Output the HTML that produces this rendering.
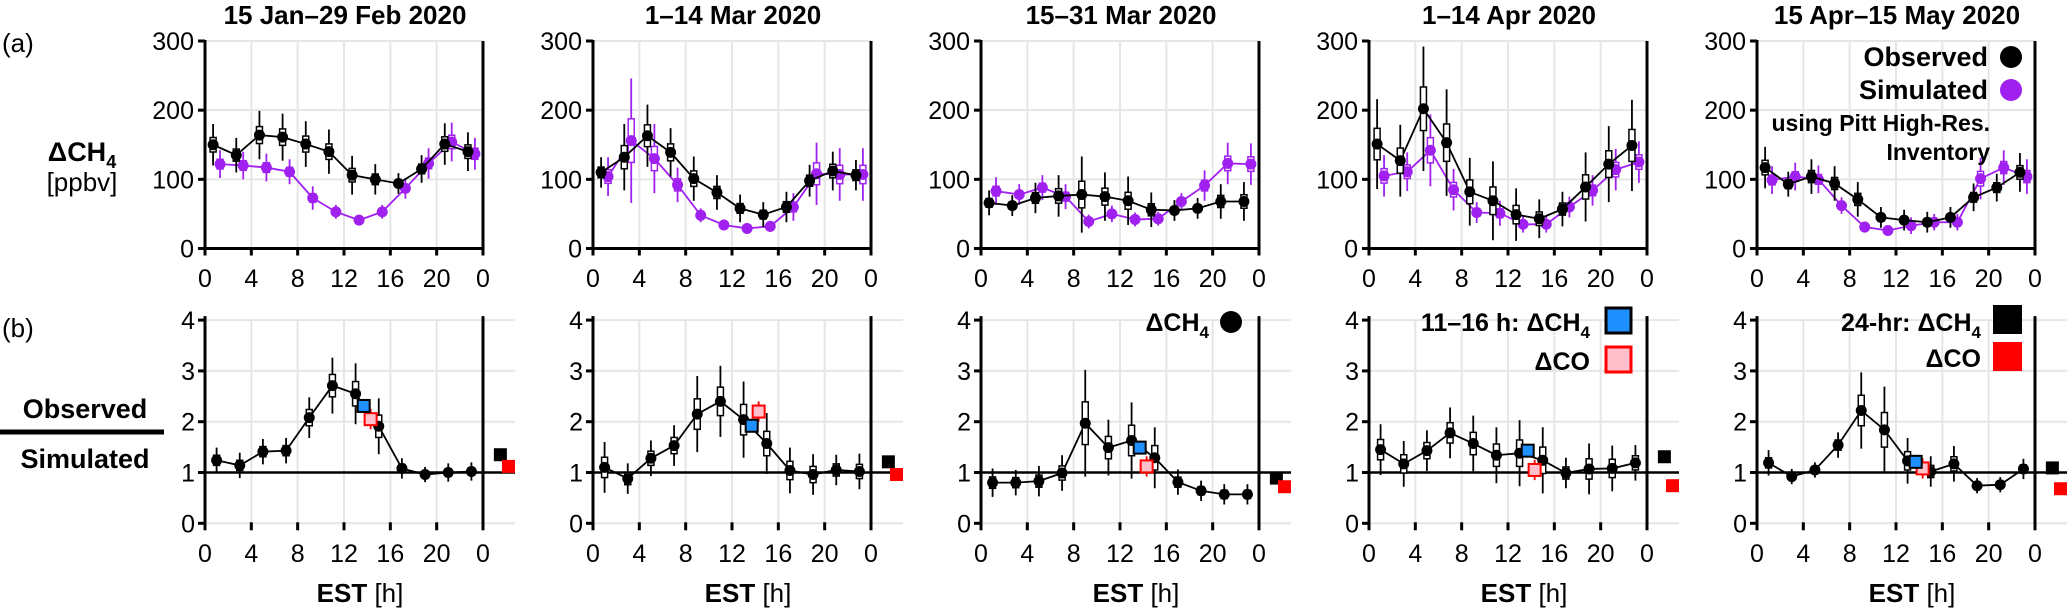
<!DOCTYPE html>
<html><head><meta charset="utf-8">
<style>
html,body{margin:0;padding:0;background:#fff;}
svg{display:block;font-family:"Liberation Sans",Arial,sans-serif;}
</style></head>
<body>
<svg id="chart" width="2067" height="611" viewBox="0 0 2067 611" xmlns="http://www.w3.org/2000/svg">
  <rect x="0" y="0" width="2067" height="611" fill="#fff"/>
  <text x="2" y="52" font-size="26">(a)</text>
  <text x="2" y="337" font-size="26">(b)</text>
  <text x="82" y="161" font-size="27" font-weight="bold" text-anchor="middle">ΔCH<tspan font-size="18" dy="7">4</tspan></text>
  <text x="82" y="191" font-size="26" text-anchor="middle">[ppbv]</text>
  <text x="85" y="418" font-size="27" font-weight="bold" text-anchor="middle">Observed</text>
  <rect x="0" y="429.5" width="164" height="5" fill="#000"/>
  <text x="85" y="468" font-size="27" font-weight="bold" text-anchor="middle">Simulated</text>
  <g id="plots"></g>
  <g id="legends">
    <text x="1988" y="66" font-size="27" font-weight="bold" text-anchor="end">Observed</text>
    <circle cx="2011" cy="57" r="11" fill="#000"/>
    <text x="1988" y="99" font-size="27" font-weight="bold" text-anchor="end">Simulated</text>
    <circle cx="2011" cy="90" r="11" fill="#a020f0"/>
    <text x="1990" y="131" font-size="23" font-weight="bold" text-anchor="end">using Pitt High-Res.</text>
    <text x="1990" y="160" font-size="23" font-weight="bold" text-anchor="end">Inventory</text>
    <text x="1209" y="331" font-size="25" font-weight="bold" text-anchor="end">ΔCH<tspan font-size="17" dy="7">4</tspan></text>
    <circle cx="1231" cy="322" r="11" fill="#000"/>
    <text x="1590" y="331" font-size="25" font-weight="bold" text-anchor="end">11–16 h: ΔCH<tspan font-size="17" dy="7">4</tspan></text>
    <rect x="1606" y="308" width="25" height="25" fill="#1e90ff" stroke="#000" stroke-width="3"/>
    <text x="1590" y="370" font-size="25" font-weight="bold" text-anchor="end">ΔCO</text>
    <rect x="1606" y="347" width="25" height="25" fill="#ffc0cb" stroke="#ff0000" stroke-width="3"/>
    <text x="1981" y="331" font-size="25" font-weight="bold" text-anchor="end">24-hr: ΔCH<tspan font-size="17" dy="7">4</tspan></text>
    <rect x="1993" y="305" width="29" height="29" fill="#000"/>
    <text x="1981" y="367" font-size="25" font-weight="bold" text-anchor="end">ΔCO</text>
    <rect x="1993" y="342" width="29" height="29" fill="#ff0000"/>
  </g>
</svg>
<script>
const titles = ["15 Jan–29 Feb 2020","1–14 Mar 2020","15–31 Mar 2020","1–14 Apr 2020","15 Apr–15 May 2020"];
const hours = [1,3,5,7,9,11,13,15,17,19,21,23];
const xTicks = [0,4,8,12,16,20,24];
const xTickLabels = ["0","4","8","12","16","20","0"];
const topTicks = [0,100,200,300];
const botTicks = [0,1,2,3,4];
const obsCH4 = [
 [150,135,164,161,151,140,106,100,94,115,151,140],
 [110,132,163,139,101,81,58,49,60,98,112,106],
 [66,62,73,76,78,75,69,56,55,58,68,68],
 [151,127,202,153,82,69,49,43,57,89,122,149],
 [117,93,104,94,71,45,41,38,45,74,88,110]];
const obsErr = [
 [30,25,35,34,33,32,28,22,15,20,30,28],
 [22,48,45,35,32,25,20,18,22,23,28,22],
 [18,15,22,30,55,35,35,25,15,15,25,28],
 [65,52,90,77,49,57,38,28,25,50,55,66],
 [30,18,25,25,25,15,15,15,15,20,20,28]];
const simCH4 = [
 [122,120,117,111,73,53,41,53,87,123,154,137],
 [104,156,130,92,48,34,29,32,60,108,107,107],
 [83,78,88,75,39,50,42,43,68,91,123,122],
 [105,111,142,85,52,51,35,35,60,84,114,125],
 [99,104,100,62,31,26,33,38,38,101,117,104]];
const simErr = [
 [20,20,20,18,17,10,7,10,15,22,28,23],
 [28,90,50,25,10,8,6,8,20,45,38,38],
 [20,15,18,18,10,12,10,10,12,22,30,30],
 [30,28,52,30,15,18,12,12,15,22,30,30],
 [20,20,20,12,8,6,12,12,12,30,25,25]];
const ratio = [
 [1.24,1.14,1.41,1.43,2.08,2.71,2.55,1.91,1.08,0.96,1.0,1.02],
 [1.10,0.88,1.28,1.53,2.15,2.40,2.04,1.57,1.04,0.96,1.05,1.02],
 [0.80,0.80,0.83,0.99,1.97,1.49,1.63,1.29,0.81,0.64,0.57,0.57],
 [1.45,1.17,1.43,1.78,1.57,1.34,1.38,1.24,0.99,1.07,1.08,1.19],
 [1.19,0.92,1.05,1.54,2.22,1.84,1.23,1.02,1.17,0.74,0.76,1.07]];
const ratioErr = [
 [.25,.25,.25,.25,.4,.55,.6,.55,.2,.15,.18,.18],
 [.5,.3,.35,.4,.75,.7,.75,.6,.45,.4,.3,.35],
 [.28,.25,.3,.35,1.05,.55,.75,.6,.25,.2,.2,.2],
 [.5,.45,.4,.5,.55,.55,.65,.65,.3,.5,.45,.35],
 [.25,.15,.15,.25,.75,.85,.45,.3,.35,.15,.15,.2]];
const middayCH4 = [2.31,1.92,1.49,1.43,1.21];
const middayCO = [2.05,2.2,1.12,1.05,1.08];
const dayCH4 = [1.35,1.21,0.89,1.31,1.09];
const dayCO = [1.12,0.96,0.72,0.74,0.68];

const NS="http://www.w3.org/2000/svg";
const root=document.getElementById('plots');
const X0=[205,593,981,1369,1757];
const PXH=278/24;
function mk(tag,a,parent){const e=document.createElementNS(NS,tag);for(const k in a)e.setAttribute(k,a[k]);(parent||root).appendChild(e);return e;}
function xS(p,h){return X0[p]+h*PXH;}
function yT(v){return 248.5-v*(207.5/300);}
function yB(v){return 523.3-v*50.8;}
const PURPLE="#a020f0";

for(let p=0;p<5;p++){
  const g=mk('g',{});
  
  
  const x0=X0[p], x24=xS(p,24);
  let t=mk('text',{x:x0+140,y:24,'font-size':26,'font-weight':'bold','text-anchor':'middle'},g);
  t.textContent=titles[p];
  
  
  for(const v of topTicks){ if(v===0)continue;
    const l=mk('line',{x1:x0,x2:x24,y1:yT(v),y2:yT(v),stroke:'#e6e6e6','stroke-width':2},g);
    
    
  }
  for(const h of xTicks){ if(h===0||h===24)continue;
    let l=mk('line',{x1:xS(p,h),x2:xS(p,h),y1:yT(300),y2:yT(0),stroke:'#e6e6e6','stroke-width':2},g);
    
    
    l=mk('line',{x1:xS(p,h),x2:xS(p,h),y1:yB(4),y2:yB(0),stroke:'#e6e6e6','stroke-width':2},g);
    
    
  }
  for(const v of botTicks){ if(v===1)continue;
    const l=mk('line',{x1:x0,x2:x0+310,y1:yB(v),y2:yB(v),stroke:'#e6e6e6','stroke-width':2},g);
    
    
  }
  let a=mk('line',{x1:x0,x2:x0,y1:yT(300)-1,y2:yT(0)+1,stroke:'#000','stroke-width':3},g);
  
  
  a=mk('line',{x1:x0,x2:x24,y1:yT(0),y2:yT(0),stroke:'#000','stroke-width':3},g);
  
  
  a=mk('line',{x1:x24,x2:x24,y1:yT(300),y2:yT(0),stroke:'#000','stroke-width':3},g);
  
  
  for(const v of topTicks){
    const tk=mk('line',{x1:x0-7,x2:x0,y1:yT(v),y2:yT(v),stroke:'#000','stroke-width':3},g);
    
    
    const tl=mk('text',{x:x0-11,y:yT(v)+9,'font-size':25,'text-anchor':'end'},g);
    tl.textContent=String(v);
    
    
  }
  xTicks.forEach((h,i)=>{
    let tk=mk('line',{x1:xS(p,h),x2:xS(p,h),y1:yT(0),y2:yT(0)+7,stroke:'#000','stroke-width':3},g);
    
    
    let tl=mk('text',{x:xS(p,h),y:287,'font-size':25,'text-anchor':'middle'},g);
    tl.textContent=xTickLabels[i];
    
    
    tk=mk('line',{x1:xS(p,h),x2:xS(p,h),y1:yB(0)-1,y2:yB(0)+7,stroke:'#000','stroke-width':3},g);
    
    
    tl=mk('text',{x:xS(p,h),y:562,'font-size':25,'text-anchor':'middle'},g);
    tl.textContent=xTickLabels[i];
    
    
  });
  a=mk('line',{x1:x0,x2:x0,y1:yB(4)-4,y2:yB(0)+1,stroke:'#000','stroke-width':3},g);
  
  
  a=mk('line',{x1:x24,x2:x24,y1:yB(4)-4,y2:yB(0),stroke:'#000','stroke-width':3},g);
  
  
  a=mk('line',{x1:x0,x2:x0+310,y1:yB(1),y2:yB(1),stroke:'#000','stroke-width':2.5},g);
  
  
  for(const v of botTicks){
    const tk=mk('line',{x1:x0-7,x2:x0,y1:yB(v),y2:yB(v),stroke:'#000','stroke-width':3},g);
    
    
    const tl=mk('text',{x:x0-10,y:yB(v)+9,'font-size':25,'text-anchor':'end'},g);
    tl.textContent=String(v);
    
    
  }
  const xl=mk('text',{x:x0+155,y:602,'font-size':26,'text-anchor':'middle'},g);
  xl.innerHTML='<tspan font-weight="bold">EST</tspan> [h]';
  
  

  function series(vals,errs,color,off,name){
    const pts=vals.map((v,i)=>xS(p,hours[i]+off)+','+yT(v)).join(' ');
    const pl=mk('polyline',{points:pts,fill:'none',stroke:color,'stroke-width':1.8},g);
    
    
    vals.forEach((v,i)=>{
      const cx=xS(p,hours[i]+off);
      const w=mk('line',{x1:cx,x2:cx,y1:yT(v+errs[i]),y2:yT(Math.max(0,v-errs[i])),stroke:color,'stroke-width':1.8},g);
      
      
      const b=mk('rect',{x:cx-3,y:yT(v+errs[i]*0.35),width:6,height:errs[i]*0.7*207.5/300,fill:'#fff',stroke:color,'stroke-width':1.5},g);
      
      
      const c=mk('circle',{cx:cx,cy:yT(v),r:5.5,fill:color},g);
      
      
    });
  }
  series(simCH4[p],simErr[p],PURPLE,0.3,'simulated');
  series(obsCH4[p],obsErr[p],'#000',-0.3,'observed');

  const rv=ratio[p], re=ratioErr[p];
  const pl=mk('polyline',{points:rv.map((v,i)=>xS(p,hours[i])+','+yB(v)).join(' '),fill:'none',stroke:'#000','stroke-width':1.8},g);
  
  
  rv.forEach((v,i)=>{
    const cx=xS(p,hours[i]);
    const w=mk('line',{x1:cx,x2:cx,y1:yB(v+re[i]),y2:yB(v-re[i]),stroke:'#000','stroke-width':1.8},g);
    
    
    const b=mk('rect',{x:cx-3,y:yB(v+re[i]*0.4),width:6,height:re[i]*0.8*50.8,fill:'#fff',stroke:'#000','stroke-width':1.5},g);
    
    
    const c=mk('circle',{cx:cx,cy:yB(v),r:5.5,fill:'#000'},g);
    
    
  });
  let m=mk('line',{x1:xS(p,14.3),x2:xS(p,14.3),y1:yB(middayCO[p]+0.2),y2:yB(middayCO[p]-0.2),stroke:'#ff0000','stroke-width':1.8},g);
  
  
  m=mk('rect',{x:xS(p,14.3)-6,y:yB(middayCO[p])-6,width:12,height:12,fill:'#ffc0cb',stroke:'#ff0000','stroke-width':2},g);
  
  
  m=mk('rect',{x:xS(p,13.7)-6,y:yB(middayCH4[p])-6,width:12,height:12,fill:'#1e90ff',stroke:'#000','stroke-width':2},g);
  
  
  m=mk('rect',{x:xS(p,25.5)-6.5,y:yB(dayCH4[p])-6.5,width:13,height:13,fill:'#000'},g);
  
  
  m=mk('rect',{x:xS(p,26.2)-6.5,y:yB(dayCO[p])-6.5,width:13,height:13,fill:'#ff0000'},g);
  
  
}
</script>
</body></html>
